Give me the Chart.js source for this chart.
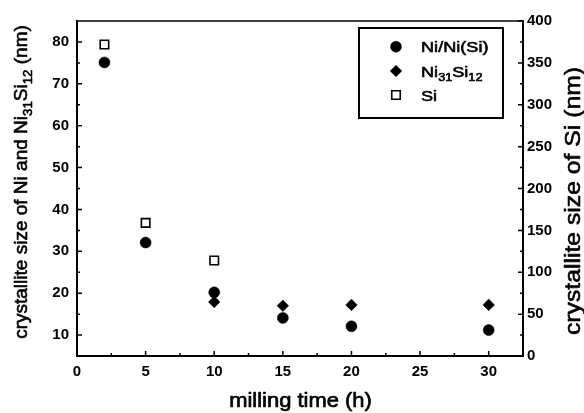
<!DOCTYPE html>
<html><head><meta charset="utf-8">
<script src="https://cdn.jsdelivr.net/npm/chart.js@4.4.1/dist/chart.umd.min.js"></script>
<style>html,body{margin:0;padding:0;background:#fff;overflow:hidden}canvas{display:block}</style>
</head><body>
<canvas id="c" width="584" height="413"></canvas>
<script>
// ---- data ----
const timeNi = [2, 5, 10, 15, 20, 30];
const sizeNi = [75.1, 32.1, 20.2, 14.1, 12.1, 11.2];
const timeNi31Si12 = [10, 15, 20, 30];
const sizeNi31Si12 = [17.9, 17.0, 17.2, 17.2];
const timeSi = [2, 5, 10];
const sizeSi = [372, 159, 114];           // right axis (nm)
const seriesLabels = ['Ni/Ni(Si)', 'Ni_{31}Si_{12}', 'Si'];
const xTicks = [0, 5, 10, 15, 20, 25, 30];
const xMinorTicks = [2.5, 7.5, 12.5, 17.5, 22.5, 27.5];
const yLeftTicks = [10, 20, 30, 40, 50, 60, 70, 80];
const yLeftMinorTicks = [15, 25, 35, 45, 55, 65, 75];
const yRightTicks = [0, 50, 100, 150, 200, 250, 300, 350, 400];
const yRightMinorTicks = [25, 75, 125, 175, 225, 275, 325, 375];
const xTitle = 'milling time (h)';
const yLeftTitle = 'crystallite size of Ni and Ni_{31}Si_{12} (nm)';
const yRightTitle = 'crystallite size of Si (nm)';

const FAM = '"Liberation Sans", Arial, Helvetica, sans-serif';
const INK = '#000';

function parseRich(s) {
  const segs = []; const re = /_\{([^}]*)\}/g; let last = 0, m;
  while ((m = re.exec(s))) {
    if (m.index > last) segs.push({t: s.slice(last, m.index), sub: false});
    segs.push({t: m[1], sub: true}); last = re.lastIndex;
  }
  if (last < s.length) segs.push({t: s.slice(last), sub: false});
  return segs;
}
// draws text with subscripts; y is the baseline; stretch widens along the text
function drawRich(ctx, s, x, y, size, align, stretch, heavy) {
  const segs = parseRich(s);
  const subSize = size * 0.7;
  let total = 0;
  segs.forEach(g => { ctx.font = (g.sub ? subSize : size) + 'px ' + FAM; g.w = ctx.measureText(g.t).width; total += g.w; });
  ctx.save();
  ctx.translate(x, y); ctx.scale(stretch, 1);
  let cx = align === 'center' ? -total / 2 : (align === 'right' ? -total : 0);
  ctx.textAlign = 'left'; ctx.textBaseline = 'alphabetic';
  ctx.strokeStyle = ctx.fillStyle; ctx.lineWidth = heavy; ctx.lineJoin = 'round';
  segs.forEach(g => {
    ctx.font = (g.sub ? subSize : size) + 'px ' + FAM;
    const yy = g.sub ? size * 0.27 : 0;
    ctx.fillText(g.t, cx, yy);
    if (heavy > 0) ctx.strokeText(g.t, cx, yy);
    cx += g.w;
  });
  ctx.restore();
}

const decorPlugin = {
  id: 'decor',
  beforeDatasetsDraw(chart) {
    const ctx = chart.ctx, a = chart.chartArea;
    const sx = chart.scales.x, sy = chart.scales.y, sy2 = chart.scales.y2;
    ctx.save();
    ctx.strokeStyle = INK; ctx.lineWidth = 1.5;
    ctx.beginPath();
    xTicks.forEach(v => { const p = sx.getPixelForValue(v); ctx.moveTo(p, a.bottom); ctx.lineTo(p, a.bottom - 5); });
    xMinorTicks.forEach(v => { const p = sx.getPixelForValue(v); ctx.moveTo(p, a.bottom); ctx.lineTo(p, a.bottom - 3); });
    yLeftTicks.forEach(v => { const p = sy.getPixelForValue(v); ctx.moveTo(a.left, p); ctx.lineTo(a.left + 5, p); });
    yLeftMinorTicks.forEach(v => { const p = sy.getPixelForValue(v); ctx.moveTo(a.left, p); ctx.lineTo(a.left + 3, p); });
    yRightTicks.forEach(v => { const p = sy2.getPixelForValue(v); ctx.moveTo(a.right, p); ctx.lineTo(a.right - 5, p); });
    yRightMinorTicks.forEach(v => { const p = sy2.getPixelForValue(v); ctx.moveTo(a.right, p); ctx.lineTo(a.right - 3, p); });
    ctx.stroke();
    ctx.lineWidth = 1.3;
    ctx.beginPath(); ctx.moveTo(a.left, a.top); ctx.lineTo(a.right, a.top); ctx.stroke();
    ctx.restore();
  },
  afterDraw(chart) {
    const ctx = chart.ctx;
    ctx.save();
    ctx.fillStyle = INK;
    drawRich(ctx, xTitle, 300.5, 406.5, 20.5, 'center', 1.07, 0.7);
    ctx.save(); ctx.translate(20, 182); ctx.rotate(-Math.PI / 2);
    drawRich(ctx, yLeftTitle, 0, 6.5, 19, 'center', 1.0, 0.6); ctx.restore();
    ctx.save(); ctx.translate(572, 201); ctx.rotate(-Math.PI / 2);
    drawRich(ctx, yRightTitle, 0, 8, 22.5, 'center', 1.1, 0.6); ctx.restore();
    // legend box
    ctx.fillStyle = '#fff'; ctx.fillRect(359, 28, 144, 90);
    ctx.strokeStyle = INK; ctx.lineWidth = 2; ctx.strokeRect(359, 28, 144, 90);
    const rows = [46.7, 71, 95];
    chart.data.datasets.forEach((ds, i) => {
      ctx.fillStyle = ds.backgroundColor; ctx.strokeStyle = ds.borderColor; ctx.lineWidth = ds.borderWidth;
      Chart.helpers.drawPoint(ctx, {pointStyle: ds.pointStyle, radius: ds.pointRadius, borderWidth: ds.borderWidth, rotation: 0}, 396, rows[i]);
      ctx.fillStyle = INK;
      drawRich(ctx, seriesLabels[i], 421, rows[i] + 5.5, 15.5, 'left', 1.17, 0.6);
    });
    ctx.restore();
  }
};

const toPts = (xs, ys) => xs.map((x, i) => ({x: x, y: ys[i]}));
const tickFont = {family: FAM, size: 15, weight: 'bold'};

new Chart(document.getElementById('c'), {
  type: 'scatter',
  data: {
    datasets: [
      {label: 'Ni/Ni(Si)', data: toPts(timeNi, sizeNi), yAxisID: 'y', pointStyle: 'circle', pointRadius: 5.5,
       backgroundColor: '#000', borderColor: '#000', borderWidth: 0.5},
      {label: 'Ni31Si12', data: toPts(timeNi31Si12, sizeNi31Si12), yAxisID: 'y', pointStyle: 'rectRot', pointRadius: 5.8,
       backgroundColor: '#000', borderColor: '#000', borderWidth: 0.5},
      {label: 'Si', data: toPts(timeSi, sizeSi), yAxisID: 'y2', pointStyle: 'rect', pointRadius: 6,
       backgroundColor: '#fff', borderColor: '#000', borderWidth: 1.6}
    ]
  },
  options: {
    responsive: false, animation: false, events: [],
    layout: {padding: {top: 21, left: 0, right: 0, bottom: 0}},
    plugins: {legend: {display: false}, tooltip: {enabled: false}},
    scales: {
      x: {type: 'linear', position: 'bottom', min: 0, max: 32.5,
          afterBuildTicks: s => { s.ticks = xTicks.map(v => ({value: v})); },
          afterFit: s => { s.height = 57; },
          grid: {display: false, drawTicks: false}, border: {display: true, color: INK, width: 2},
          ticks: {font: tickFont, color: INK, padding: 7, maxRotation: 0}},
      y: {type: 'linear', position: 'left', min: 5, max: 85,
          afterBuildTicks: s => { s.ticks = yLeftTicks.map(v => ({value: v})); },
          afterFit: s => { s.width = 77; },
          grid: {display: false, drawTicks: false}, border: {display: true, color: INK, width: 2},
          ticks: {font: tickFont, color: INK, padding: 8}},
      y2: {type: 'linear', position: 'right', min: 0, max: 400,
          afterBuildTicks: s => { s.ticks = yRightTicks.map(v => ({value: v})); },
          afterFit: s => { s.width = 61; },
          grid: {display: false, drawTicks: false}, border: {display: true, color: INK, width: 2},
          ticks: {font: tickFont, color: INK, padding: 4}}
    }
  },
  plugins: [decorPlugin]
});
</script>
</body></html>
